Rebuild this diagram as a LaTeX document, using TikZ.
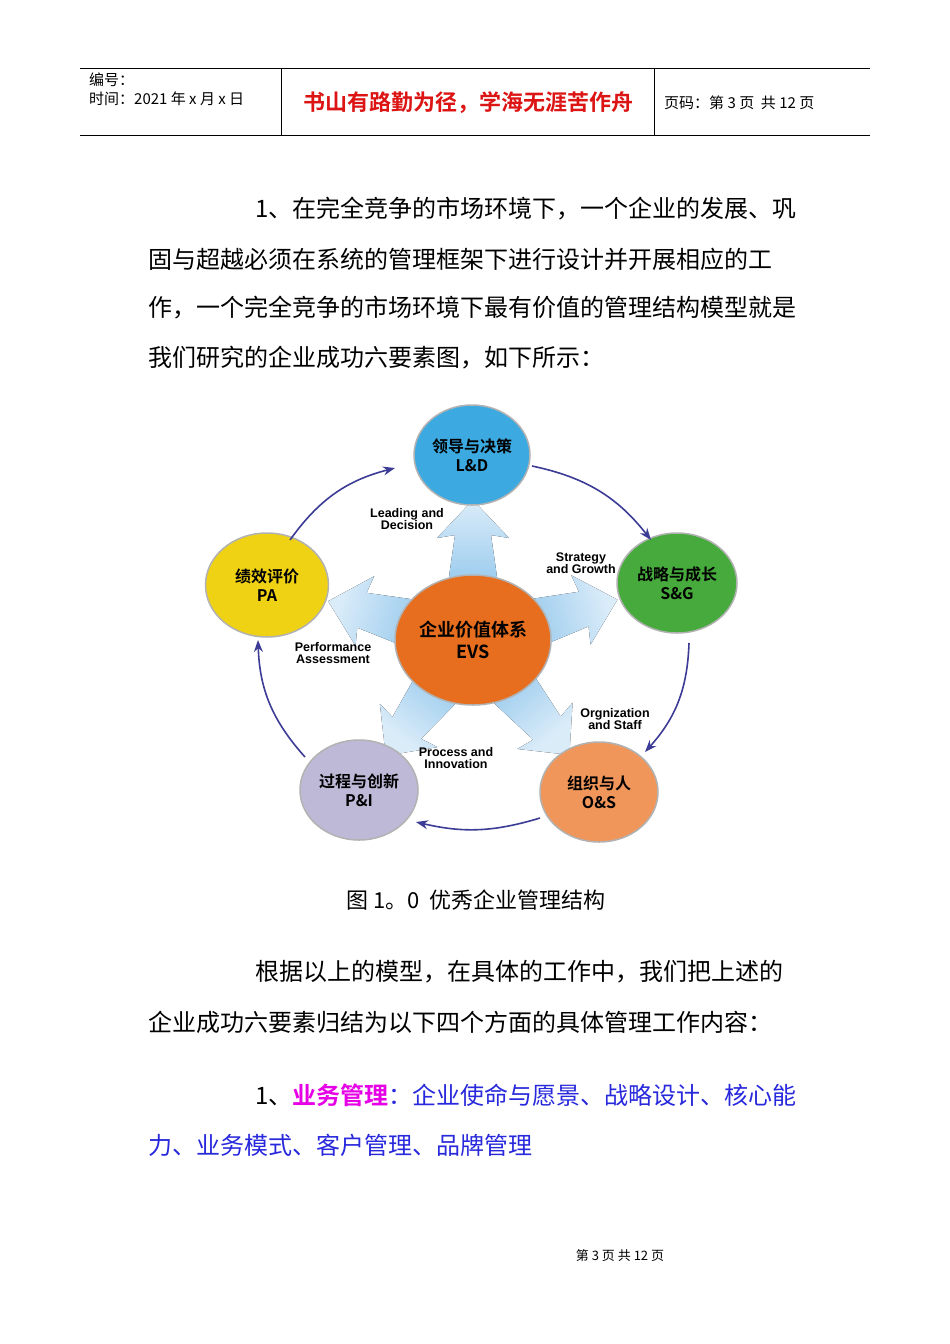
\documentclass[tikz,border=0pt]{standalone}
\usepackage{fontspec}
\setmainfont{Liberation Serif}
\newfontfamily\cjk{Noto Sans CJK SC}
\newfontfamily\cjkb{Noto Sans CJK SC Bold}
\newfontfamily\lsans{Liberation Sans}
\usetikzlibrary{arrows.meta,shapes.geometric}
\definecolor{ringc}{RGB}{60,60,150}
\definecolor{arrc}{RGB}{110,180,230}
\definecolor{ldc}{RGB}{60,170,225}
\definecolor{sgc}{RGB}{70,170,60}
\definecolor{osc}{RGB}{240,150,90}
\definecolor{pic}{RGB}{190,185,215}
\definecolor{pac}{RGB}{240,210,20}
\definecolor{evsc}{RGB}{230,110,30}
\definecolor{magc}{RGB}{230,0,230}
\definecolor{bluec}{RGB}{40,40,220}
\tikzset{
 body/.style={anchor=west,inner sep=0,font=\fontsize{24}{24}\selectfont\cjk},
 ball/.style={ellipse,draw=gray!60,line width=1.5pt,align=center,inner sep=0,minimum width=#1},
 btxt/.style={font=\fontsize{16}{19}\selectfont\cjkb,align=center},
 lab/.style={font=\fontsize{12.5}{12}\selectfont\lsans\bfseries,align=center,inner sep=0},
 ring/.style={ringc,line width=1.6pt,-{Stealth[length=12pt,width=9pt]}},
 fatarrow/.style={left color=arrc!25,right color=arrc,draw=none}
}
\begin{document}
\begin{tikzpicture}[x=1pt,y=-1pt]
\useasboundingbox (0,0) rectangle (950,1344);
\fill[white] (0,0) rectangle (950,1344);
% header
\draw[line width=0.8pt] (80,68) -- (870,68) (80,135) -- (870,135);
\draw[line width=0.8pt] (281,68) -- (281,135) (654,68) -- (654,135);
\node[anchor=west,inner sep=0,font=\fontsize{15}{15}\selectfont\cjk] (h1) at (89,80) {编号：};
\node[anchor=west,inner sep=0,font=\fontsize{15}{15}\selectfont\cjk] (h2) at (89,99) {时间：2021 年 x 月 x 日};
\node[inner sep=0,font=\fontsize{22}{22}\selectfont\cjkb,text={rgb,255:red,220;green,20;blue,20}] (h3) at (468,103) {书山有路勤为径，学海无涯苦作舟};
\node[anchor=west,inner sep=0,font=\fontsize{15}{15}\selectfont\cjk] (h4) at (664,103) {页码：第 3 页\ \ 共 12 页};
% body
\node[body] (p1) at (255,209) {1、在完全竞争的市场环境下，一个企业的发展、巩};
\node[body] (p2) at (148,259) {固与超越必须在系统的管理框架下进行设计并开展相应的工};
\node[body] (p3) at (148,308) {作，一个完全竞争的市场环境下最有价值的管理结构模型就是};
\node[body] (p4) at (148,358) {我们研究的企业成功六要素图，如下所示：};
% fat arrows
\foreach \a/\l in {-90/140,-15.6/150,50/150,127/145,-165/150}{
 \begin{scope}[shift={(473,640)},rotate=-\a]
  \fill[fatarrow,shading angle=-\a-90] (0,-30) .. controls (50,-26) .. (\l-35,-18) -- (\l-38,-36) -- (\l,0) -- (\l-38,36) -- (\l-35,18) .. controls (50,26) .. (0,30) -- cycle;
 \end{scope}}
% balls
\node[ball=116pt,minimum height=100pt,fill=ldc] (ld) at (472,455) {};
\node[btxt] (ldt) at (ld) {领导与决策\\L\&D};
\node[ball=120pt,minimum height=100pt,fill=sgc] (sg) at (677,583) {};
\node[btxt] (sgt) at (sg) {战略与成长\\S\&G};
\node[ball=118pt,minimum height=100pt,fill=osc] (os) at (599,792) {};
\node[btxt] (ost) at (os) {组织与人\\O\&S};
\node[ball=118pt,minimum height=100pt,fill=pic] (pi) at (359,790) {};
\node[btxt] (pit) at (pi) {过程与创新\\P\&I};
\node[ball=123pt,minimum height=104pt,fill=pac] (pa) at (267,585) {};
\node[btxt] (pat) at (pa) {绩效评价\\PA};
\node[ball=156pt,minimum height=130pt,fill=evsc] (evs) at (473,640) {};
\node[font=\fontsize{18}{22}\selectfont\cjkb,align=center] (evst) at (evs) {企业价值体系\\EVS};
% labels
\node[lab] (l1) at (407,519) {Leading and\\Decision};
\node[lab] (l2) at (581,563) {Strategy\\and Growth};
\node[lab] (l3) at (615,719) {Orgnization\\and Staff};
\node[lab] (l4) at (456,758) {Process and\\Innovation};
\node[lab] (l5) at (333,653) {Performance\\Assessment};
% ring arrows
\coordinate (a1) at (532,466); \coordinate (b1) at (651,540);
\coordinate (a2) at (689,643); \coordinate (b2) at (645,752);
\coordinate (a3) at (540,818); \coordinate (b3) at (416,822);
\coordinate (a4) at (305,757); \coordinate (b4) at (258,640);
\coordinate (a5) at (290,540); \coordinate (b5) at (395,468);
\draw[ring] (a1) to[bend left=20] (b1);
\draw[ring] (a2) to[bend left=20] (b2);
\draw[ring] (a3) to[bend left=15] (b3);
\draw[ring] (a4) to[bend left=20] (b4);
\draw[ring] (a5) to[bend left=20] (b5);
% caption & text
\node[inner sep=0,font=\fontsize{22}{22}\selectfont\cjk] (cap) at (476,900) {图 1。0\ \ 优秀企业管理结构};
\node[body] (q1) at (255,972) {根据以上的模型，在具体的工作中，我们把上述的};
\node[body] (q2) at (148,1022) {企业成功六要素归结为以下四个方面的具体管理工作内容：};
\node[body] (q3) at (255,1095) {1、{\color{magc}\cjkb 业务管理}{\color{bluec}：企业使命与愿景、战略设计、核心能}};
\node[body,text=bluec] (q4) at (148,1145) {力、业务模式、客户管理、品牌管理};
\node[inner sep=0,font=\fontsize{13}{13}\selectfont\cjk] (ft) at (620,1256) {第 3 页 共 12 页};
\end{tikzpicture}
\end{document}
